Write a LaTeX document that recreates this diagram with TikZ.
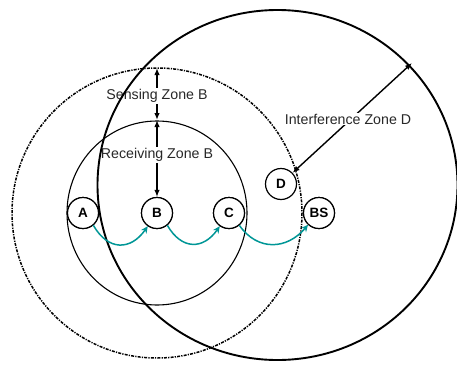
\documentclass[tikz,border=0pt]{standalone}
\usepackage{fontspec}
\setmainfont{Liberation Sans}
\usetikzlibrary{arrows.meta}
\definecolor{hopcol}{RGB}{0,150,150}
\definecolor{labelcol}{RGB}{40,40,40}
\begin{document}
\begin{tikzpicture}[x=1pt,y=-1pt,
 station/.style={circle,draw,line width=1.2pt,fill=white,minimum size=31pt,inner sep=0pt,font=\fontsize{13.5}{15}\selectfont\bfseries},
 zonelabel/.style={fill=white,inner sep=1pt,text=labelcol,font=\fontsize{14.2}{16}\selectfont},
 hop/.style={draw=hopcol,line width=1.5pt,-{Stealth[length=7pt,width=6.5pt]}},
 dim/.style={line width=1.4pt,{Latex[length=7pt,width=5.5pt]}-{Latex[length=7pt,width=5.5pt]}},
 rzone/.style={line width=1.1pt},
 szone/.style={line width=1.5pt,dash pattern=on 3pt off 1.2pt on 1.2pt off 1.2pt},
 izone/.style={line width=1.9pt}]
\useasboundingbox (0,0) rectangle (457,364);
% stations
\node[station] (A) at (83,213) {A};
\node[station] (B) at (157,213) {B};
\node[station] (C) at (229,213) {C};
\node[station] (D) at (281,184) {D};
\node[station] (BS) at (319,213) {BS};
% zones
\draw[rzone] (B) ellipse[x radius=90,y radius=92];
\draw[szone] (B) circle[radius=145];
% radius markers
\coordinate (stop) at (157,68);
\coordinate (rtop) at (157,120);
\coordinate (itip) at (412,63);
\draw[dim] (rtop) -- (stop);
\draw[dim] (rtop) -- (B.north);
\draw[dim] (D.44) -- (itip);
\node[zonelabel] (sl) at (157,96) {Sensing Zone B};
\node[zonelabel] (rl) at (157,155) {Receiving Zone B};
\node[zonelabel] (il) at (348,119) {Interference Zone D};
\draw[izone] (277.5,185) ellipse[x radius=180,y radius=175];
% redraw stations on top
\foreach \n/\t in {A/A,B/B,C/C,BS/BS}{\node[station] at (\n) {\t};}
% hops
\draw[hop] (A.-50) to[out=-60,in=-125,looseness=1.4] (B.-125);
\draw[hop] (B.-50) to[out=-60,in=-125,looseness=1.4] (C.-125);
\draw[hop] (C.-50) to[out=-55,in=-130,looseness=1.2] (BS.-133);
\end{tikzpicture}
\end{document}
